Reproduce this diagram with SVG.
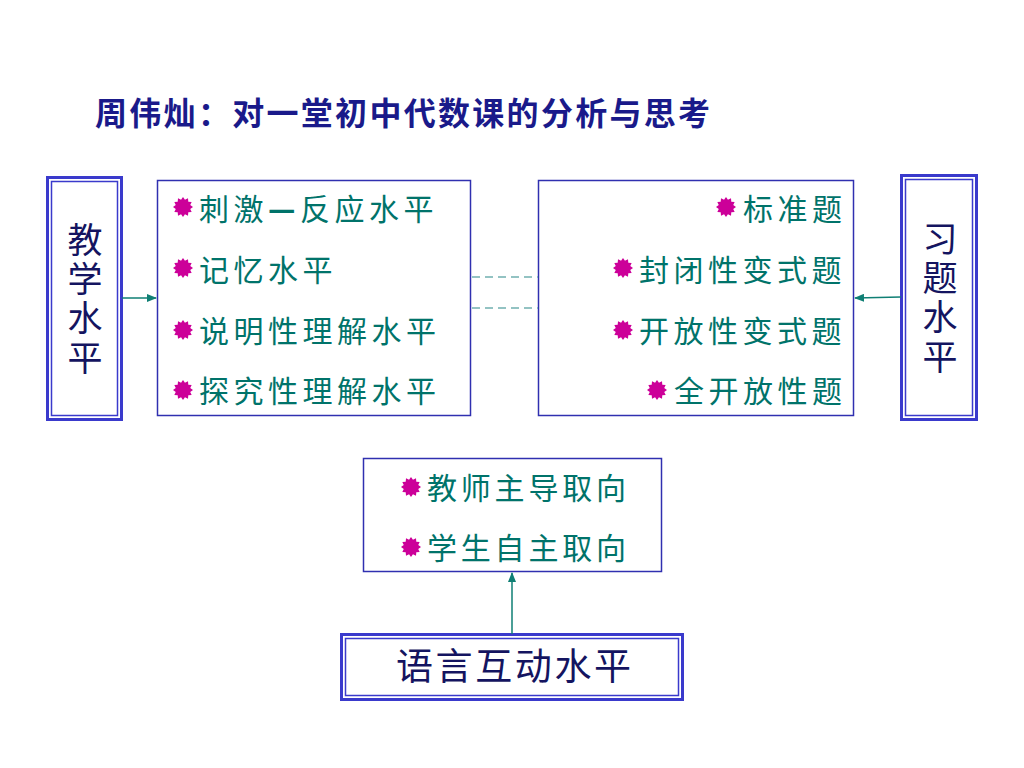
<svg xmlns="http://www.w3.org/2000/svg" width="1024" height="768" viewBox="0 0 1024 768">
<style>
.title{font-family:"Noto Sans CJK SC","Noto Sans CJK TC",sans-serif;font-size:32px;fill:#1a1a8a;font-weight:bold;letter-spacing:2.3px}
.item{font-family:"Noto Sans CJK SC",sans-serif;font-size:30px;fill:#00736a;letter-spacing:4.5px}
.dashchar{font-weight:900}
.vlabel{font-family:"Noto Sans CJK SC",sans-serif;font-size:35px;fill:#141460;writing-mode:vertical-rl;text-orientation:upright;letter-spacing:4.3px}
.blabel{font-family:"Noto Sans CJK SC",sans-serif;font-size:37px;fill:#141460;letter-spacing:2.6px}
.box{fill:#ffffff;stroke:#3030b0;stroke-width:1.5}
.outer{fill:#ffffff;stroke:#3a3acc;stroke-width:3}
.inner{fill:none;stroke:#3a3acc;stroke-width:1.5}
.conn{stroke:#0f7f74;stroke-width:1.5;fill:none}
.dash{stroke:#70b0b0;stroke-width:1.5;stroke-dasharray:8,5;fill:none}
.star{fill:#cc0099}
</style>
<defs>
<polygon id="star" class="star" points="10,0 7.24,1.94 8.66,5 5.3,5.3 5,8.66 1.94,7.24 0,10 -1.94,7.24 -5,8.66 -5.3,5.3 -8.66,5 -7.24,1.94 -10,0 -7.24,-1.94 -8.66,-5 -5.3,-5.3 -5,-8.66 -1.94,-7.24 0,-10 1.94,-7.24 5,-8.66 5.3,-5.3 8.66,-5 7.24,-1.94"/>
<marker id="arr" markerWidth="10" markerHeight="8" refX="9" refY="4" orient="auto" markerUnits="userSpaceOnUse">
<path d="M0,0 L10,4 L0,8 Z" fill="#0f7f74"/>
</marker>
</defs>

<text class="title" x="95" y="125">周伟灿：对一堂初中代数课的分析与思考</text>

<g id="node-teaching">
<rect class="outer" x="47.5" y="177.5" width="74" height="242"/>
<rect class="inner" x="51.5" y="181.5" width="66" height="234"/>
<text class="vlabel" x="85" y="222">教学水平</text>
</g>

<g id="node-levels">
<rect class="box" x="157.5" y="180.5" width="313" height="235"/>
<use href="#star" x="183" y="207"/>
<text class="item" x="199" y="220">刺激<tspan class="dashchar">—</tspan>反应水平</text>
<use href="#star" x="183" y="268"/>
<text class="item" x="199" y="281">记忆水平</text>
<use href="#star" x="183" y="330"/>
<text class="item" x="199" y="342">说明性理解水平</text>
<use href="#star" x="183" y="390"/>
<text class="item" x="199" y="402">探究性理解水平</text>
</g>

<g id="node-exercises">
<rect class="box" x="538.5" y="180.5" width="315" height="235"/>
<use href="#star" x="726" y="207"/>
<text class="item" x="743" y="220">标准题</text>
<use href="#star" x="623" y="268"/>
<text class="item" x="639" y="281">封闭性变式题</text>
<use href="#star" x="623" y="330"/>
<text class="item" x="639" y="342">开放性变式题</text>
<use href="#star" x="657" y="390"/>
<text class="item" x="674" y="402">全开放性题</text>
</g>

<g id="node-exercise-level">
<rect class="outer" x="901.5" y="175.5" width="75" height="244"/>
<rect class="inner" x="905.5" y="179.5" width="67" height="236"/>
<text class="vlabel" x="940" y="221">习题水平</text>
</g>

<g id="node-orientation">
<rect class="box" x="363.5" y="458.5" width="298" height="113"/>
<use href="#star" x="411" y="487"/>
<text class="item" x="427" y="499" style="letter-spacing:3.8px">教师主导取向</text>
<use href="#star" x="411" y="547"/>
<text class="item" x="427" y="559" style="letter-spacing:3.8px">学生自主取向</text>
</g>

<g id="node-language">
<rect class="outer" x="341.5" y="634.5" width="341" height="65"/>
<rect class="inner" x="345.5" y="638.5" width="333" height="57"/>
<text class="blabel" x="396" y="680">语言互动水平</text>
</g>

<g id="connectors">
<line class="conn" x1="122" y1="298" x2="156" y2="298" marker-end="url(#arr)"/>
<line class="conn" x1="901" y1="297" x2="855" y2="298" marker-end="url(#arr)"/>
<line class="conn" x1="512" y1="634" x2="512" y2="573" marker-end="url(#arr)"/>
<line class="dash" x1="472" y1="277" x2="538" y2="277"/>
<line class="dash" x1="472" y1="308" x2="538" y2="308"/>
</g>
</svg>
